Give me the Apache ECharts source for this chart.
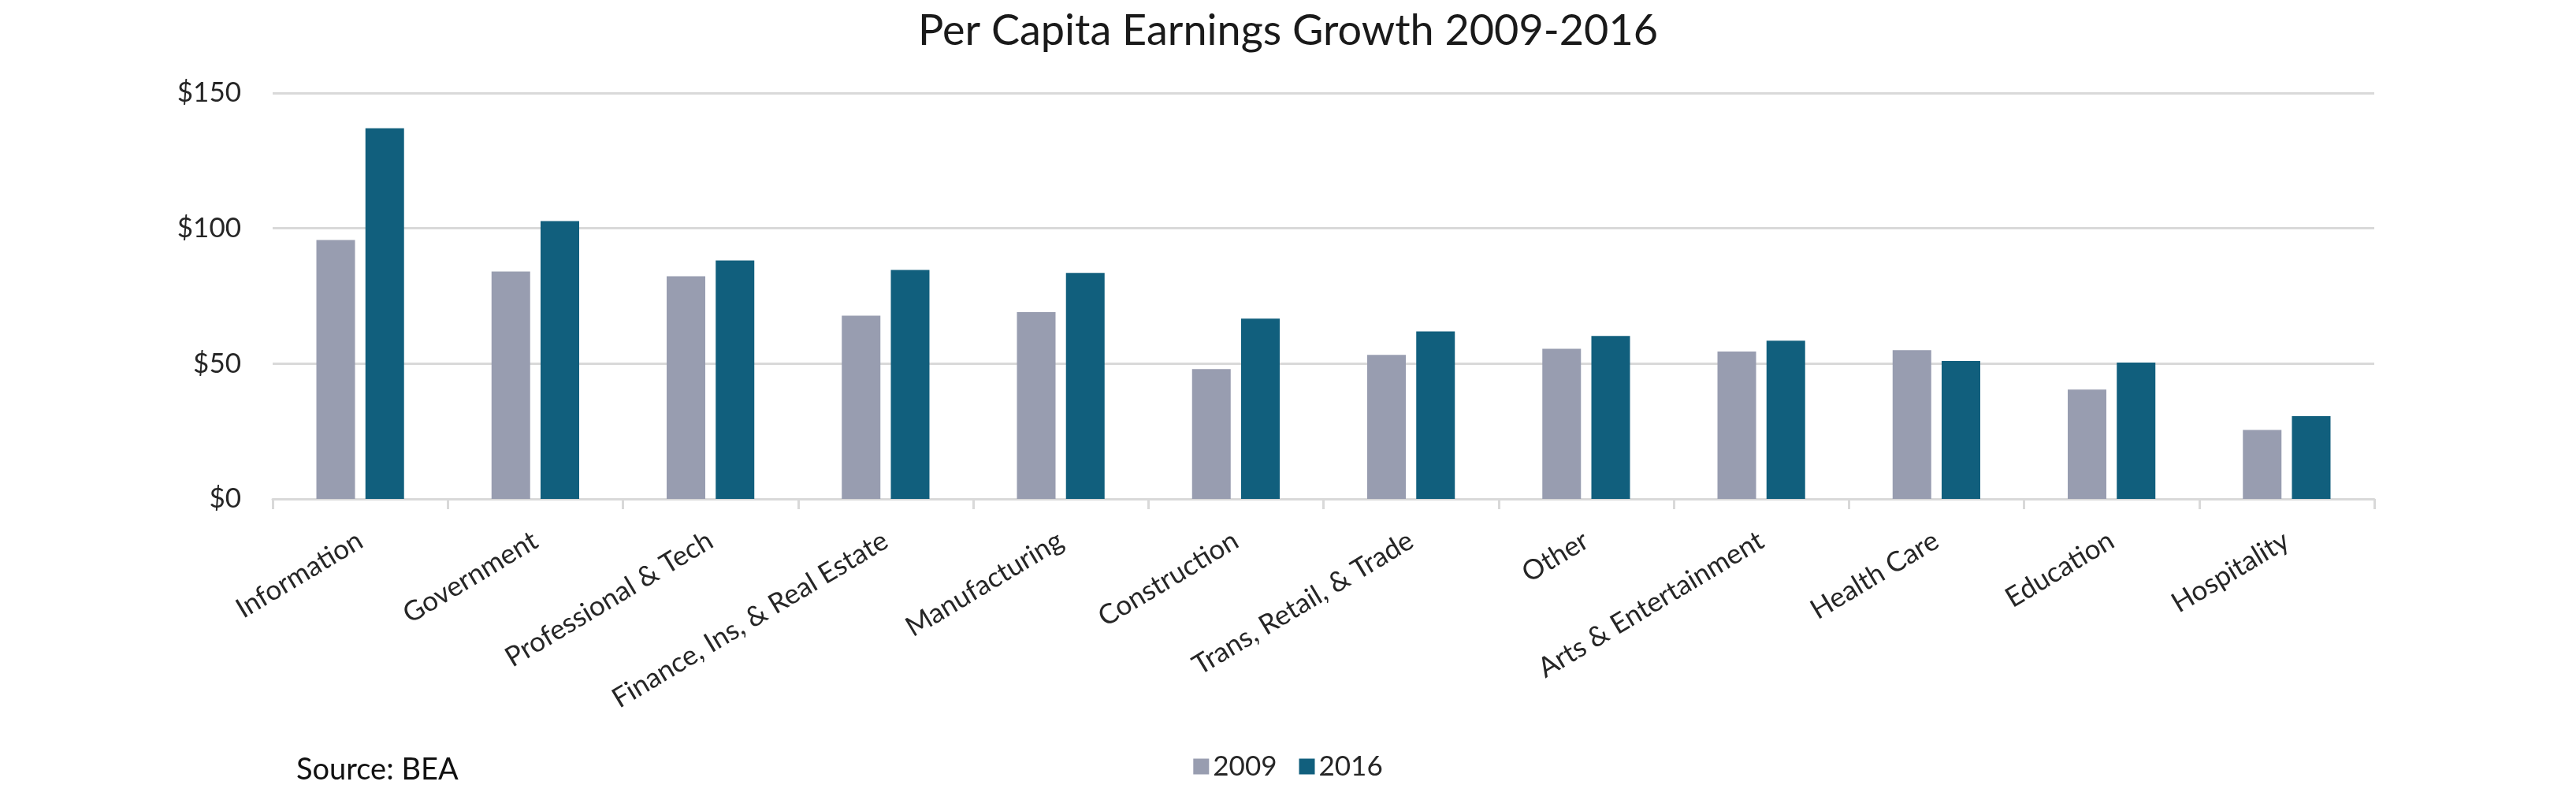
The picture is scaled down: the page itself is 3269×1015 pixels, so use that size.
<!DOCTYPE html>
<html>
<head>
<meta charset="utf-8">
<script src="https://cdn.jsdelivr.net/npm/echarts@6/dist/echarts.min.js"></script>
<style>
html,body{margin:0;padding:0;background:#fff;}
#chart{width:3269px;height:1015px;}
</style>
</head>
<body>
<div id="chart"></div>
<script>
const categories = ['Information','Government','Professional & Tech','Finance, Ins, & Real Estate','Manufacturing','Construction','Trans, Retail, & Trade','Other','Arts & Entertainment','Health Care','Education','Hospitality'];
const values2009 = [95.7, 84.0, 82.3, 67.7, 69.0, 48.0, 53.2, 55.5, 54.5, 55.0, 40.4, 25.5];
const values2016 = [137.0, 102.7, 88.1, 84.6, 83.5, 66.6, 61.9, 60.2, 58.5, 51.0, 50.4, 30.6];
const seriesNames = ['2009', '2016'];
const yTicks = [0, 50, 100, 150];
const titleText = 'Per Capita Earnings Growth 2009-2016';
const sourceText = 'Source: BEA';

const FONT = 'Lato, "Open Sans", sans-serif';
const chart = echarts.init(document.getElementById('chart'), null, {renderer: 'canvas'});
chart.setOption({
  animation: false,
  backgroundColor: '#ffffff',
  title: {
    text: titleText,
    left: 'center',
    top: 8,
    textStyle: {fontFamily: FONT, fontSize: 54, fontWeight: 'normal', color: '#1a1a1a'}
  },
  legend: {
    data: seriesNames,
    left: 'center',
    top: 950,
    itemWidth: 20,
    itemHeight: 20,
    itemGap: 28,
    icon: 'rect',
    textStyle: {fontFamily: FONT, fontSize: 35, color: '#262626'}
  },
  graphic: [{
    type: 'text',
    left: 376,
    top: 958,
    style: {text: sourceText, font: '38px ' + FONT, fill: '#111'}
  }],
  grid: {left: 346, right: 256, top: 118, bottom: 382, containLabel: false},
  xAxis: {
    type: 'category',
    data: categories,
    boundaryGap: true,
    axisLine: {show: true, lineStyle: {color: '#D9D9D9', width: 3}},
    axisTick: {show: true, alignWithLabel: false, length: 13, lineStyle: {color: '#D9D9D9', width: 3}},
    axisLabel: {
      interval: 0,
      rotate: 31,
      margin: 50,
      fontFamily: FONT,
      fontSize: 35,
      color: '#262626'
    }
  },
  yAxis: {
    type: 'value',
    min: yTicks[0],
    max: yTicks[yTicks.length - 1],
    interval: yTicks[1] - yTicks[0],
    axisLine: {show: false},
    axisTick: {show: false},
    splitLine: {lineStyle: {color: '#D9D9D9', width: 3}},
    axisLabel: {
      margin: 40,
      fontFamily: FONT,
      fontSize: 35,
      color: '#262626',
      formatter: v => '$' + v
    }
  },
  series: [
    {name: seriesNames[0], type: 'bar', data: values2009, barWidth: 49, barGap: '27%', itemStyle: {color: '#989DB0'}},
    {name: seriesNames[1], type: 'bar', data: values2016, barWidth: 49, barGap: '27%', itemStyle: {color: '#115F7D'}}
  ]
});
</script>
</body>
</html>
